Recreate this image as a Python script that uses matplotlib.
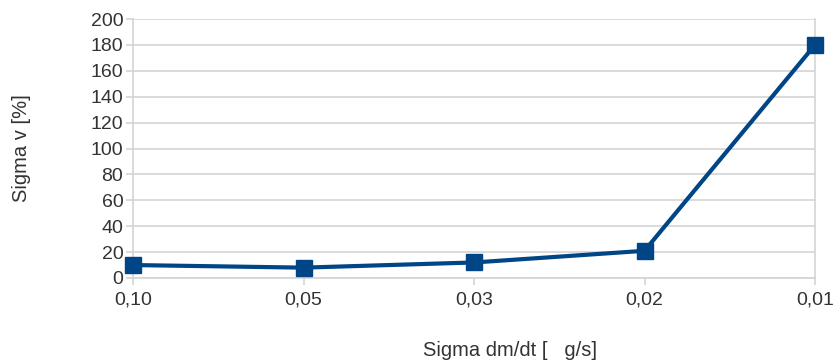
import matplotlib
matplotlib.use("Agg")
import matplotlib.pyplot as plt

categories = ["0,10", "0,05", "0,03", "0,02", "0,01"]
sigma_v = [10, 8, 12, 21, 180]
y_ticks = list(range(0, 201, 20))

plt.rcParams['font.family'] = ['Liberation Sans', 'DejaVu Sans']

fig = plt.figure(figsize=(8.35, 3.63), dpi=100)
ax = fig.add_axes([133/835, 1-278/363, (815-133)/835, (278-19)/363])

x = list(range(len(categories)))
ax.plot(x, sigma_v, color="#004586", lw=3.0, marker="s", markersize=11,
        markerfacecolor="#004586", markeredgecolor="#004586", zorder=3, clip_on=False)

ax.set_xlim(0, len(categories)-1)
ax.set_ylim(0, 200)
ax.set_xticks(x)
ax.set_xticklabels(categories)
ax.set_yticks(y_ticks)
ax.set_yticklabels([str(v) for v in y_ticks])

grid_c = "#d4d4d4"
ax.yaxis.grid(True, color=grid_c, lw=1.2)
ax.set_axisbelow(True)
for s in ["left", "right", "bottom"]:
    ax.spines[s].set_color(grid_c)
    ax.spines[s].set_linewidth(1.2)
ax.spines["top"].set_visible(False)
ax.tick_params(axis="both", colors=grid_c, length=5, width=1.2, labelsize=14,
               labelcolor="#333333")
ax.tick_params(axis="x", pad=5)
ax.tick_params(axis="y", pad=2)

fig.text(22/835, 1-148/363, "Sigma v [%]", rotation=90, fontsize=14.5,
         color="#333333", ha="center", va="center")
fig.text(510/835, 1-350/363, "Sigma dm/dt [   g/s]", fontsize=14.5,
         color="#333333", ha="center", va="center")

fig.savefig("out.png", dpi=100)
